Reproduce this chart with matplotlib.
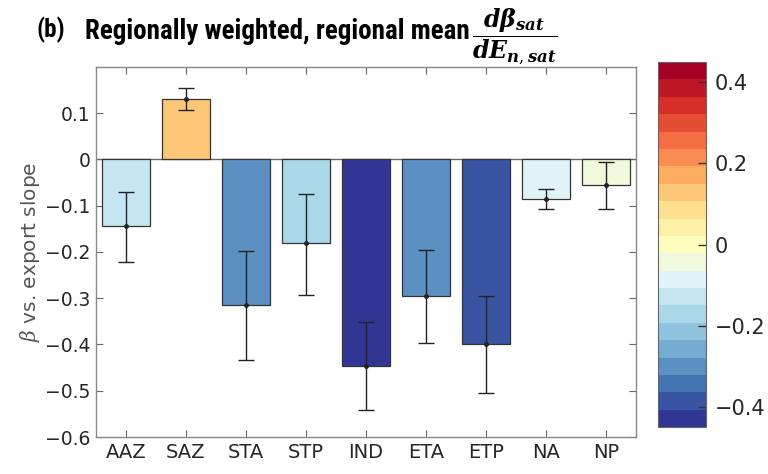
import numpy as np
import matplotlib
matplotlib.use('Agg')
import matplotlib.pyplot as plt
from matplotlib import font_manager
from matplotlib.colors import ListedColormap, BoundaryNorm
from matplotlib.colorbar import ColorbarBase

regions = ['AAZ', 'SAZ', 'STA', 'STP', 'IND', 'ETA', 'ETP', 'NA', 'NP']
slope = [-0.145, 0.131, -0.315, -0.181, -0.446, -0.296, -0.399, -0.085, -0.056]
err_hi = [-0.070, 0.154, -0.198, -0.074, -0.351, -0.196, -0.296, -0.065, -0.005]
err_lo = [-0.222, 0.107, -0.433, -0.293, -0.541, -0.397, -0.504, -0.107, -0.107]
ytick_vals = [-0.6, -0.5, -0.4, -0.3, -0.2, -0.1, 0, 0.1]
cbar_ticks = [-0.4, -0.2, 0, 0.2, 0.4]

plt.rcParams.update({'font.family': ['DejaVu Sans'],
                     'mathtext.fontset': 'dejavuserif',
                     'font.size': 13.5})

# narrow bold face for the title, if there is one
title_font = 'DejaVu Sans'
for name in ['Liberation Sans Narrow', 'Roboto Condensed', 'Open Sans Condensed', 'Liberation Sans']:
    try:
        font_manager.findfont(name, fallback_to_default=False)
        title_font = name
        break
    except Exception:
        pass

nlev = 21
cmap = ListedColormap(plt.get_cmap('RdYlBu_r')(np.linspace(0, 1, nlev)))
bounds = np.linspace(-0.45, 0.45, nlev + 1)
norm = BoundaryNorm(bounds, nlev)

fig = plt.figure(figsize=(7.68, 4.74), dpi=100)
ax = fig.add_axes([0.125, 0.078, 0.703, 0.781])

x = np.arange(1, len(regions) + 1)
slope = np.array(slope)
ax.axhline(0, color='#666666', lw=1.0, zorder=1)
ax.bar(x, slope, width=0.8, color=cmap(norm(slope)), edgecolor='#333333',
       linewidth=0.9, zorder=2)
lower = slope - np.array(err_lo)
upper = np.array(err_hi) - slope
ax.errorbar(x, slope, yerr=[lower, upper], fmt='o', color='#222222',
            ms=2.5, elinewidth=1.0, capsize=6, capthick=1.0, zorder=3)

ax.set_xlim(0.5, 9.5)
ax.set_ylim(-0.6, 0.2)
ax.set_xticks(x)
ax.set_xticklabels(regions)
ax.set_yticks(ytick_vals)
ax.set_yticklabels(['0' if v == 0 else f'{v:.1f}'.replace('-', '\u2212') for v in ytick_vals])
ax.tick_params(direction='in', top=True, right=True, length=5, width=0.8,
               color='#666666', labelcolor='#262626', pad=4)
ax.tick_params(axis='x', labelsize=14)
for s in ax.spines.values():
    s.set_color('#888888')
    s.set_linewidth(1.0)
ax.set_ylabel(r'$\beta$ vs. export slope', color='#555555', fontsize=14.5, labelpad=2)

cax = fig.add_axes([0.857, 0.099, 0.0625, 0.77])
cb = ColorbarBase(cax, cmap=cmap, norm=norm, boundaries=bounds, orientation='vertical')
cb.set_ticks(cbar_ticks)
cb.set_ticklabels(['0' if v == 0 else f'{v:.1f}'.replace('-', '\u2212') for v in cbar_ticks])
cax.minorticks_off()
cax.tick_params(direction='in', length=6, width=1.0, color='#333333',
                labelcolor='#262626', labelsize=15, pad=6)
cb.outline.set_edgecolor('#666666')
cb.outline.set_linewidth(0.8)

fig.text(0.048, 0.937, '(b)', fontsize=18, fontweight='bold', va='center', ha='left',
         family=title_font)
t = fig.text(0.111, 0.934, 'Regionally weighted, regional mean', fontsize=20,
             fontweight='bold', va='center', ha='left', family=title_font)
# squeeze the title to the width it has in the figure
fig.canvas.draw()
w = t.get_window_extent().width
t.set_fontsize(20 * 383 / w)
fig.text(0.614, 0.924,
         r'$\dfrac{\boldsymbol{d\beta}_{\boldsymbol{sat}}}{\boldsymbol{dE}_{\boldsymbol{n,sat}}}$',
         fontsize=17, va='center', ha='left')

fig.savefig('out.png', dpi=100)
